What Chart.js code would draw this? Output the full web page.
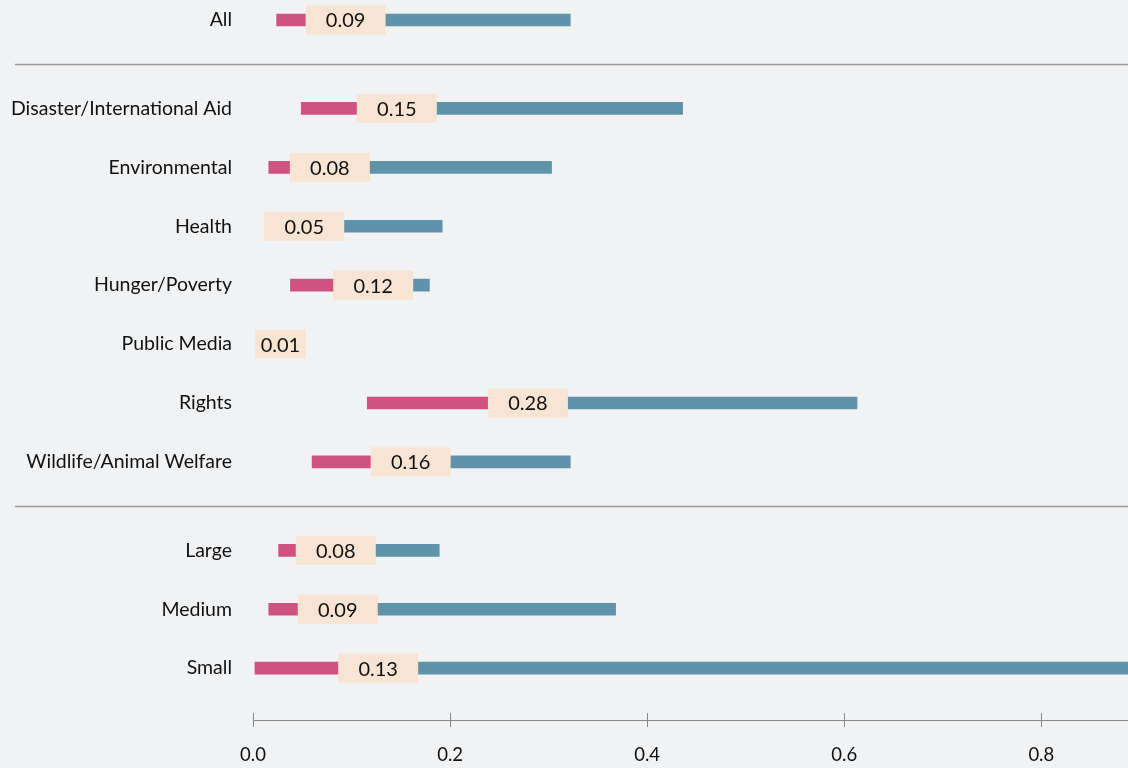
<!DOCTYPE html>
<html>
<head>
<meta charset="utf-8">
<script src="https://cdn.jsdelivr.net/npm/chart.js@4"></script>
<style>
  html, body { margin: 0; padding: 0; background: #f1f2f4; }
  canvas { display: block; }
</style>
</head>
<body>
<canvas id="chart" width="1128" height="768"></canvas>
<script>
const categories = ['All', 'Disaster/International Aid', 'Environmental', 'Health', 'Hunger/Poverty',
    'Public Media', 'Rights', 'Wildlife/Animal Welfare', 'Large', 'Medium', 'Small'];
const groups = [0, 1, 1, 1, 1, 1, 1, 1, 2, 2, 2];
const lows = [0.024, 0.049, 0.016, 0.03, 0.038, 0.003, 0.116, 0.06, 0.026, 0.016, 0.002];
const medians = [0.094, 0.146, 0.078, 0.052, 0.122, 0.013, 0.279, 0.16, 0.084, 0.086, 0.127];
const highs = [0.322, 0.436, 0.303, 0.192, 0.179, 0.04, 0.613, 0.322, 0.189, 0.368, 0.95];
const xTicks = [0, 0.2, 0.4, 0.6, 0.8];

// rows sit one unit apart, with an extra half unit between groups
const rowPos = categories.map((c, i) => i + 0.5 * groups[i]);
const separators = [];
for (let i = 1; i < groups.length; i++) {
    if (groups[i] !== groups[i - 1]) separators.push((rowPos[i] + rowPos[i - 1]) / 2);
}

const FONT = 'Lato, "Open Sans", sans-serif';
const PINK = '#d05281';
const BLUE = '#5f93a9';

const decorPlugin = {
    id: 'decor',
    afterDraw(chart) {
        const ctx = chart.ctx;
        const x = chart.scales.x;
        const y = chart.scales.y;
        ctx.save();
        // group separators
        ctx.strokeStyle = '#9a9a9a';
        ctx.lineWidth = 1.5;
        separators.forEach(s => {
            const py = Math.round(y.getPixelForValue(s)) + 0.5;
            ctx.beginPath();
            ctx.moveTo(15, py);
            ctx.lineTo(chart.width, py);
            ctx.stroke();
        });
        // axis tick marks crossing the axis line
        ctx.strokeStyle = '#888';
        ctx.lineWidth = 1;
        xTicks.forEach(t => {
            const px = Math.round(x.getPixelForValue(t)) + 0.5;
            ctx.beginPath();
            ctx.moveTo(px, x.top - 7);
            ctx.lineTo(px, x.top + 7);
            ctx.stroke();
        });
        // median label boxes, clipped at the left of the plot
        const minLeft = x.getPixelForValue(0) + 2;
        ctx.font = '20px ' + FONT;
        ctx.textAlign = 'center';
        ctx.textBaseline = 'middle';
        medians.forEach((m, i) => {
            const w = 80, h = 29;
            const cx = x.getPixelForValue(m);
            const left = Math.max(cx - w / 2, minLeft);
            const right = cx + w / 2;
            const cy = y.getPixelForValue(rowPos[i]);
            ctx.fillStyle = '#f7e4d2';
            ctx.fillRect(left, cy - h / 2, right - left, h);
            ctx.fillStyle = '#111';
            ctx.fillText(m.toFixed(2), (left + right) / 2, cy + 1);
        });
        ctx.restore();
    }
};

new Chart(document.getElementById('chart'), {
    type: 'bar',
    data: {
        datasets: [
            {
                label: 'low',
                data: categories.map((c, i) => ({ x: [lows[i], medians[i]], y: rowPos[i] })),
                backgroundColor: PINK
            },
            {
                label: 'high',
                data: categories.map((c, i) => ({ x: [medians[i], highs[i]], y: rowPos[i] })),
                backgroundColor: BLUE
            }
        ]
    },
    options: {
        indexAxis: 'y',
        responsive: false,
        animation: false,
        layout: { padding: 0 },
        datasets: {
            bar: { barThickness: 12, grouped: false, borderWidth: 0 }
        },
        plugins: {
            legend: { display: false },
            tooltip: { enabled: false }
        },
        scales: {
            x: {
                type: 'linear',
                min: 0,
                max: 0.888,
                afterBuildTicks: scale => { scale.ticks = xTicks.map(v => ({ value: v })); },
                afterFit: scale => {
                    scale.height = 48;
                    scale.paddingLeft = 0;
                    scale.paddingRight = 0;
                },
                grid: { display: false, drawTicks: false },
                border: { display: true, color: '#888', width: 1 },
                ticks: {
                    padding: 24,
                    color: '#111',
                    font: { family: FONT, size: 18.5 },
                    callback: v => v.toFixed(1)
                }
            },
            y: {
                type: 'linear',
                reverse: true,
                offset: false,
                min: -0.34,
                max: 11.88,
                afterBuildTicks: scale => { scale.ticks = rowPos.map(v => ({ value: v })); },
                afterFit: scale => {
                    scale.width = 253;
                    scale.paddingTop = 0;
                    scale.paddingBottom = 0;
                },
                grid: { display: false, drawTicks: false },
                border: { display: false },
                ticks: {
                    padding: 21,
                    color: '#111',
                    font: { family: FONT, size: 19.5 },
                    callback: v => categories[rowPos.indexOf(v)]
                }
            }
        }
    },
    plugins: [decorPlugin]
});
</script>
</body>
</html>
